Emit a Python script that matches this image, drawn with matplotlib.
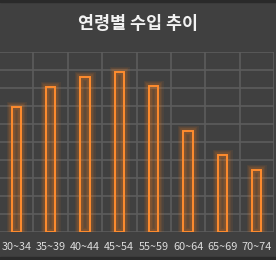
import matplotlib
matplotlib.use("Agg")
import matplotlib.pyplot as plt
import numpy as np

plt.rcParams['font.family'] = ['Noto Sans CJK KR', 'DejaVu Sans']

categories = ["30~34", "35~39", "40~44", "45~54", "55~59", "60~64", "65~69", "70~74"]
values = [694, 804, 863, 889, 811, 563, 428, 344]
title = "연령별 수입 추이"

W, H = 276, 260
fig = plt.figure(figsize=(W/100, H/100), dpi=100)
bg = "#404040"
fig.patch.set_facecolor(bg)

ax = fig.add_axes([-1/W, (H-232)/H, 275/W, 180/H])
ax.set_facecolor(bg)
x = np.arange(len(categories))
ax.set_xlim(-0.5, len(categories)-0.5)
ax.set_ylim(0, 1000)
ax.set_yticks(np.arange(0, 1001, 100))
ax.set_xticks(np.arange(-0.5, len(categories)+0.5, 1), minor=True)
ax.set_xticks(x)
ax.set_xticklabels(categories, color="#dcdcdc", fontsize=7.8)
ax.tick_params(axis='x', which='both', length=0, pad=7)
ax.tick_params(axis='y', length=0, labelleft=False)
ax.grid(True, axis='y', color="#5c5c5c", lw=1.2)
ax.grid(True, axis='x', which='minor', color="#5c5c5c", lw=1.2)
ax.grid(False, axis='x', which='major')
ax.set_axisbelow(True)
for s in ax.spines.values():
    s.set_visible(False)

bw = 0.27
# glow
for lw, a in [(8, 0.07), (6, 0.09), (4, 0.14)]:
    ax.bar(x, values, width=bw, facecolor='none', edgecolor=(1.0, 0.5, 0.1, a), linewidth=lw)
ax.bar(x, values, width=bw, facecolor=(1.0, 0.5, 0.1, 0.10), edgecolor="#ff8c2e", linewidth=1.4)

fig.text(138/W, 1-24/H, title, ha='center', va='center', color="#f2f2f2",
         fontsize=12.5, fontweight='bold')

# borders
fig.patches.append(plt.Rectangle((0, 1-1.5/H), 1, 1.5/H, transform=fig.transFigure, color="#2a2a2a"))
fig.patches.append(plt.Rectangle((0, 0), 1, 3/H, transform=fig.transFigure, color="#2a2a2a"))

fig.savefig("out.png", dpi=100, facecolor=bg)
